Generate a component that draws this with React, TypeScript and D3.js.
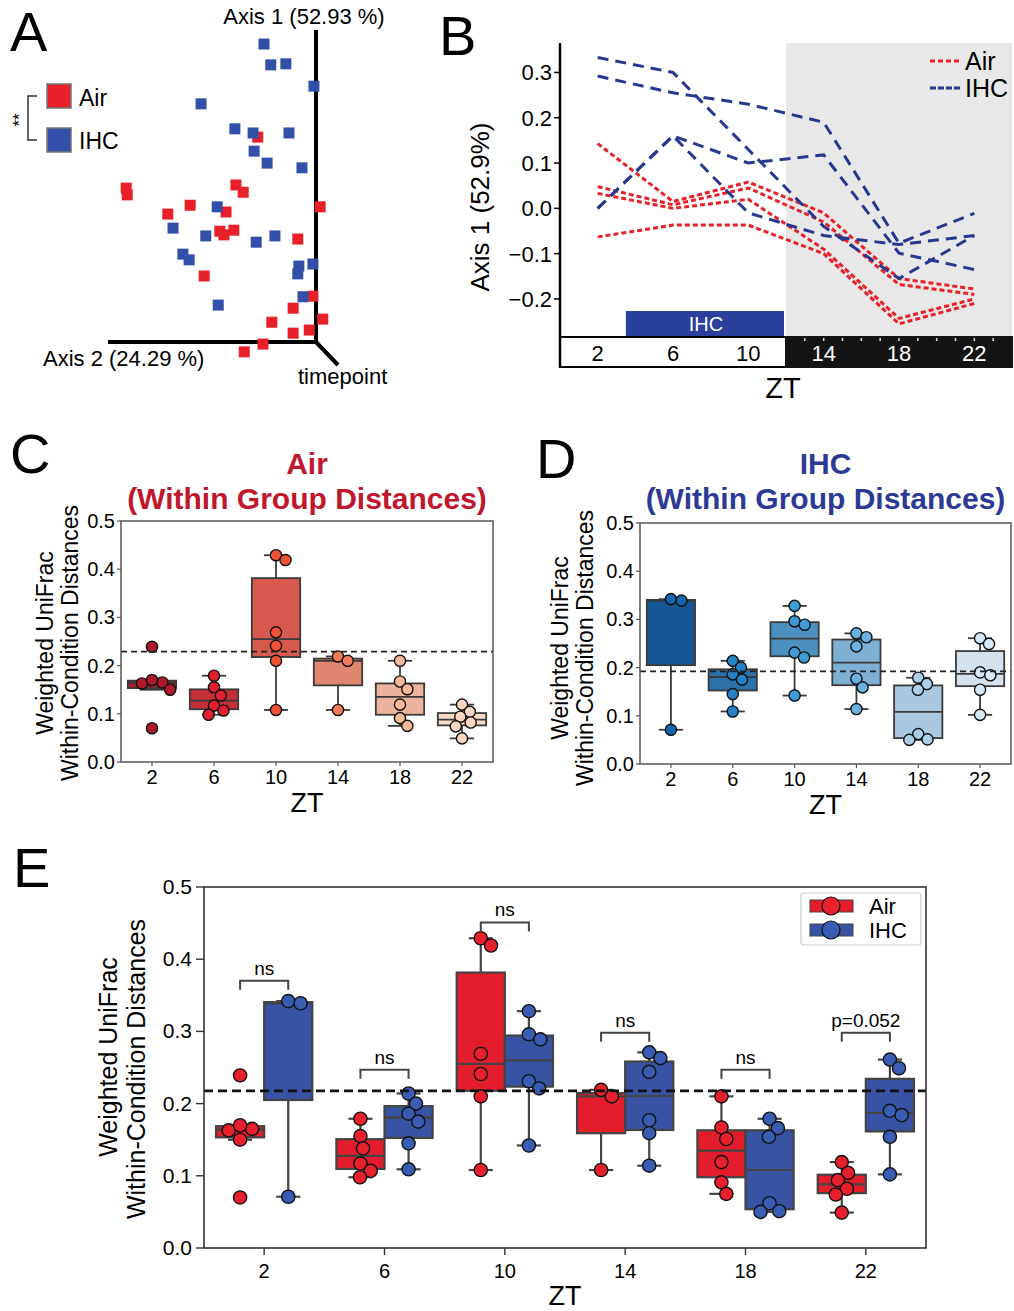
import * as d3 from 'd3';

const FONT = '"Liberation Sans", Arial, Helvetica, sans-serif';

// ---- Panel A: PCoA coordinates [axis 2, axis 1]
const pcoaAir = [
  [-0.112, 0.394], [-0.365, 0.296], [-0.363, 0.283], [-0.154, 0.302], [-0.14, 0.288],
  [-0.242, 0.263], [-0.285, 0.246], [-0.173, 0.25], [-0.185, 0.213], [-0.177, 0.206],
  [-0.158, 0.215], [0.008, 0.26], [-0.035, 0.198], [-0.215, 0.127], [-0.006, 0.088],
  [-0.044, 0.065], [0.013, 0.044], [-0.085, 0.038], [-0.013, 0.023], [-0.044, 0.017],
  [-0.102, -0.004], [-0.138, -0.019],
];
const pcoaIHC = [
  [-0.1, 0.573], [-0.087, 0.533], [-0.058, 0.535], [-0.004, 0.492], [-0.221, 0.458],
  [-0.156, 0.41], [-0.121, 0.402], [-0.052, 0.402], [-0.119, 0.367], [-0.094, 0.344],
  [-0.027, 0.335], [-0.19, 0.26], [-0.275, 0.219], [-0.212, 0.204], [-0.079, 0.204],
  [-0.115, 0.192], [-0.256, 0.169], [-0.244, 0.158], [-0.006, 0.15], [-0.033, 0.146],
  [-0.035, 0.131], [-0.025, 0.087], [-0.188, 0.071],
];

// ---- Panel B: Axis 1 score per ZT
const ztHours = [2, 6, 10, 14, 18, 22];
const axis1Air = [
  [0.143, 0.015, 0.058, -0.01, -0.155, -0.178],
  [0.048, 0.008, 0.045, -0.03, -0.168, -0.19],
  [0.033, 0.0, 0.02, -0.09, -0.243, -0.2],
  [-0.063, -0.037, -0.037, -0.1, -0.255, -0.21],
];
const axis1IHC = [
  [0.333, 0.3, 0.13, -0.04, -0.155, -0.06],
  [0.292, 0.255, 0.23, 0.19, -0.077, -0.011],
  [0.0, 0.16, 0.1, 0.118, -0.099, -0.135],
  [0.0, 0.16, -0.01, -0.06, -0.08, -0.06],
];
const bTicks = [-0.2, -0.1, 0.0, 0.1, 0.2, 0.3];

// ---- Panels C-E: within-condition weighted UniFrac distances
const ztLabels = ['2', '6', '10', '14', '18', '22'];
const distAir = [
  [0.239, 0.163, 0.165, 0.17, 0.15, 0.07],
  [0.179, 0.155, 0.138, 0.117, 0.107, 0.098],
  [0.429, 0.419, 0.269, 0.241, 0.21, 0.108],
  [0.219, 0.21, 0.108],
  [0.21, 0.167, 0.151, 0.119, 0.091, 0.075],
  [0.119, 0.104, 0.094, 0.082, 0.074, 0.049],
];
const distIHC = [
  [0.342, 0.339, 0.071],
  [0.214, 0.2, 0.186, 0.175, 0.145, 0.109],
  [0.328, 0.296, 0.289, 0.231, 0.221, 0.142],
  [0.271, 0.263, 0.244, 0.177, 0.159, 0.114],
  [0.179, 0.166, 0.154, 0.062, 0.051, 0.05],
  [0.261, 0.249, 0.19, 0.184, 0.154, 0.102],
];
const refAir = 0.229;
const refIHC = 0.192;
const refAll = 0.2176;
const yTicks = [0, 0.1, 0.2, 0.3, 0.4, 0.5];
const sigLabels = ['ns', 'ns', 'ns', 'ns', 'ns', 'p=0.052'];
const sigHeights = [0.37, 0.247, 0.451, 0.298, 0.247, 0.298];

const airBox = ['#a51d2d', '#c52f38', '#d65b4e', '#e0856e', '#ecb49d', '#f8dacb'];
const airPt = ['#ae1a2c', '#e21f2f', '#ef5235', '#f27c5a', '#f9b999', '#fcd6c3'];
const ihcBox = ['#165896', '#2b71aa', '#4c90c0', '#7eb0d4', '#aac9e0', '#d4e2ed'];
const ihcPt = ['#1664ae', '#2680c6', '#3d9bd6', '#69b1df', '#a9cfe9', '#d6e8f5'];
const RED = '#e41d2d';
const BLUE = '#3953a4';

function boxStats(values) {
  const s = [...values].sort(d3.ascending);
  const q1 = d3.quantileSorted(s, 0.25);
  const med = d3.quantileSorted(s, 0.5);
  const q3 = d3.quantileSorted(s, 0.75);
  const iqr = q3 - q1;
  const lo = d3.min(s.filter((v) => v >= q1 - 1.5 * iqr));
  const hi = d3.max(s.filter((v) => v <= q3 + 1.5 * iqr));
  return { q1, med, q3, lo, hi };
}

// simple beeswarm, like seaborn's swarmplot
function swarm(values, y, d) {
  const pts = values.map((v) => ({ v, py: y(v), dx: 0 }));
  const order = [...pts].sort((a, b) => a.py - b.py);
  const placed = [];
  for (const p of order) {
    const cands = [0];
    for (const q of placed) {
      const dy = p.py - q.py;
      if (Math.abs(dy) < d) {
        const off = Math.sqrt(d * d - dy * dy);
        cands.push(q.dx + off, q.dx - off);
      }
    }
    cands.sort((a, b) => Math.abs(a) - Math.abs(b));
    for (const c of cands) {
      if (placed.every((q) => (q.dx - c) ** 2 + (q.py - p.py) ** 2 >= d * d - 0.01)) {
        p.dx = c;
        break;
      }
    }
    placed.push(p);
  }
  return pts;
}

function Box({ cx, w, values, y, fill, ptFill, r, stroke = '#3a3a3a', sw = 1.8 }) {
  const b = boxStats(values);
  const pts = swarm(values, y, r * 1.9);
  return (
    <g>
      <line x1={cx} x2={cx} y1={y(b.q3)} y2={y(b.hi)} stroke={stroke} strokeWidth={sw} />
      <line x1={cx} x2={cx} y1={y(b.q1)} y2={y(b.lo)} stroke={stroke} strokeWidth={sw} />
      <line x1={cx - w / 4} x2={cx + w / 4} y1={y(b.hi)} y2={y(b.hi)} stroke={stroke} strokeWidth={sw} />
      <line x1={cx - w / 4} x2={cx + w / 4} y1={y(b.lo)} y2={y(b.lo)} stroke={stroke} strokeWidth={sw} />
      <rect x={cx - w / 2} y={y(b.q3)} width={w} height={Math.max(1, y(b.q1) - y(b.q3))} fill={fill} stroke={stroke} strokeWidth={sw} />
      <line x1={cx - w / 2} x2={cx + w / 2} y1={y(b.med)} y2={y(b.med)} stroke={stroke} strokeWidth={sw} />
      {pts.map((p, i) => (
        <circle key={i} cx={cx + p.dx} cy={p.py} r={r} fill={ptFill} stroke="#111" strokeWidth={1.4} />
      ))}
    </g>
  );
}

function PanelA() {
  const x = d3.scaleLinear().domain([-0.4, 0]).range([108, 316]);
  const y = d3.scaleLinear().domain([0, 0.6]).range([342, 30]);
  const s = 11;
  return (
    <g fontFamily={FONT}>
      <text x={10} y={51} fontSize={56}>A</text>
      <text x={304} y={24} fontSize={22} textAnchor="middle">Axis 1 (52.93 %)</text>
      <text x={43} y={366} fontSize={22}>Axis 2 (24.29 %)</text>
      <text x={298} y={384} fontSize={22}>timepoint</text>
      <line x1={x(0)} x2={x(0)} y1={y(0.6)} y2={y(0)} stroke="#000" strokeWidth={4} />
      <line x1={x(-0.4)} x2={x(0)} y1={y(0)} y2={y(0)} stroke="#000" strokeWidth={4} />
      <line x1={x(0)} x2={x(0) + 22} y1={y(0)} y2={y(0) + 23} stroke="#000" strokeWidth={4} />
      {pcoaAir.map((d, i) => (
        <rect key={'a' + i} x={x(d[0]) - s / 2} y={y(d[1]) - s / 2} width={s} height={s} fill="#e8202a" />
      ))}
      {pcoaIHC.map((d, i) => (
        <rect key={'b' + i} x={x(d[0]) - s / 2} y={y(d[1]) - s / 2} width={s} height={s} fill="#3250a8" />
      ))}
      <rect x={47} y={84} width={24} height={24} fill="#e8202a" stroke="#777" strokeWidth={1.5} />
      <rect x={47} y={128} width={24} height={24} fill="#3250a8" stroke="#777" strokeWidth={1.5} />
      <text x={79} y={106} fontSize={23}>Air</text>
      <text x={79} y={149} fontSize={23}>IHC</text>
      <path d="M37,96H28V140H37" fill="none" stroke="#333" strokeWidth={1.5} />
      <text x={0} y={0} fontSize={17} textAnchor="middle" transform="translate(25,120) rotate(-90)">**</text>
    </g>
  );
}

function PanelB() {
  const x = d3.scaleLinear().domain([0, 24]).range([560, 1012]);
  const y = d3.scaleLinear().domain([-0.284, 0.365]).range([337, 43]);
  const line = d3.line().x((_, i) => x(ztHours[i])).y((d) => y(d));
  const minor = d3.range(13, 24);
  return (
    <g fontFamily={FONT}>
      <text x={439} y={55} fontSize={56}>B</text>
      <rect x={x(12)} y={43} width={x(24) - x(12)} height={294} fill="#e8e8e8" />
      <rect x={x(3.5)} y={311} width={x(12) - x(3.5) - 2} height={25} fill="#2b3f9c" />
      <text x={(x(3.5) + x(12)) / 2} y={331} fontSize={20} fill="#fff" textAnchor="middle">IHC</text>
      {axis1Air.map((d, i) => (
        <path key={'ra' + i} d={line(d)} fill="none" stroke="#e8202a" strokeWidth={3} strokeDasharray="5,3" />
      ))}
      {axis1IHC.map((d, i) => (
        <path key={'bi' + i} d={line(d)} fill="none" stroke="#27398f" strokeWidth={3} strokeDasharray="11,7" />
      ))}
      <rect x={x(0)} y={337} width={x(12) - x(0)} height={30} fill="#fff" stroke="#000" strokeWidth={2} />
      <rect x={x(12)} y={337} width={x(24) - x(12)} height={30} fill="#141414" stroke="#141414" strokeWidth={2} />
      {minor.map((h) => (
        <line key={h} x1={x(h)} x2={x(h)} y1={338} y2={341} stroke="#ddd" strokeWidth={1.5} />
      ))}
      {ztHours.map((h) => (
        <text key={h} x={x(h)} y={361} fontSize={22} textAnchor="middle" fill={h > 12 ? '#fff' : '#000'}>{h}</text>
      ))}
      <line x1={x(0)} x2={x(0)} y1={43} y2={367} stroke="#000" strokeWidth={2.5} />
      {bTicks.map((t) => (
        <g key={t}>
          <line x1={x(0) - 6} x2={x(0)} y1={y(t)} y2={y(t)} stroke="#000" strokeWidth={1.5} />
          <text x={x(0) - 8} y={y(t) + 8} fontSize={22} textAnchor="end">{t < 0 ? '\u2212' + Math.abs(t).toFixed(1) : t.toFixed(1)}</text>
        </g>
      ))}
      <text transform="translate(489,207) rotate(-90)" fontSize={26} textAnchor="middle">Axis 1 (52.9%)</text>
      <text x={783} y={398} fontSize={29} textAnchor="middle">ZT</text>
      <line x1={930} x2={960} y1={61} y2={61} stroke="#e8202a" strokeWidth={3} strokeDasharray="5,3" />
      <line x1={930} x2={960} y1={88} y2={88} stroke="#27398f" strokeWidth={3} strokeDasharray="6,2" />
      <text x={965} y={70} fontSize={25}>Air</text>
      <text x={965} y={97} fontSize={25}>IHC</text>
    </g>
  );
}

function WithinPanel({ letter, letterX, letterY, title, color, left, right, top, bottom, data, boxFill, ptFill, refValue, labelX, labelY }) {
  const x = d3.scaleBand().domain(ztLabels).range([left, right]);
  const y = d3.scaleLinear().domain([0, 0.5]).range([bottom, top]);
  const cx = (left + right) / 2;
  const bw = x.bandwidth() * 0.78;
  return (
    <g fontFamily={FONT}>
      <text x={letterX} y={letterY} fontSize={56}>{letter}</text>
      <text x={cx} y={474} fontSize={30} fontWeight="bold" fill={color} textAnchor="middle">{title}</text>
      <text x={cx} y={509} fontSize={30} fontWeight="bold" fill={color} textAnchor="middle">(Within Group Distances)</text>
      {data.map((vals, i) => (
        <Box key={i} cx={x(ztLabels[i]) + x.bandwidth() / 2} w={bw} values={vals} y={y} fill={boxFill[i]} ptFill={ptFill[i]} r={5.6} />
      ))}
      <line x1={left} x2={right} y1={y(refValue)} y2={y(refValue)} stroke="#222" strokeWidth={1.8} strokeDasharray="6,4" />
      <rect x={left} y={top} width={right - left} height={bottom - top} fill="none" stroke="#555" strokeWidth={1.5} />
      {yTicks.map((t) => (
        <g key={t}>
          <line x1={left - 4} x2={left} y1={y(t)} y2={y(t)} stroke="#555" strokeWidth={1.2} />
          <text x={left - 6} y={y(t) + 7} fontSize={20} textAnchor="end">{t.toFixed(1)}</text>
        </g>
      ))}
      {ztLabels.map((z) => (
        <g key={z}>
          <line x1={x(z) + x.bandwidth() / 2} x2={x(z) + x.bandwidth() / 2} y1={bottom} y2={bottom + 4} stroke="#555" strokeWidth={1.2} />
          <text x={x(z) + x.bandwidth() / 2} y={bottom + 22} fontSize={20} textAnchor="middle">{z}</text>
        </g>
      ))}
      <text x={cx} y={bottom + 50} fontSize={27} textAnchor="middle">ZT</text>
      <text transform={`translate(${labelX},${labelY}) rotate(-90)`} fontSize={23} textAnchor="middle">Weighted UniFrac</text>
      <text transform={`translate(${labelX + 25},${labelY}) rotate(-90)`} fontSize={23} textAnchor="middle">Within-Condition Distances</text>
    </g>
  );
}

function PanelE() {
  const left = 204, right = 926, top = 887, bottom = 1248;
  const x = d3.scaleBand().domain(ztLabels).range([left, right]);
  const y = d3.scaleLinear().domain([0, 0.5]).range([bottom, top]);
  const step = x.bandwidth();
  const bw = step * 0.4;
  return (
    <g fontFamily={FONT}>
      <text x={13} y={887} fontSize={56}>E</text>
      {ztLabels.map((z, i) => {
        const c = x(z) + step / 2;
        return (
          <g key={z}>
            <Box cx={c - bw / 2} w={bw} values={distAir[i]} y={y} fill={RED} ptFill="#e8202e" r={6.6} stroke="#444" sw={2.2} />
            <Box cx={c + bw / 2} w={bw} values={distIHC[i]} y={y} fill={BLUE} ptFill="#3a5db4" r={6.6} stroke="#444" sw={2.2} />
          </g>
        );
      })}
      <line x1={left} x2={right} y1={y(refAll)} y2={y(refAll)} stroke="#111" strokeWidth={2.6} strokeDasharray="9,5" />
      {ztLabels.map((z, i) => {
        const c = x(z) + step / 2;
        const yy = y(sigHeights[i]);
        return (
          <g key={'s' + z}>
            <path d={`M${c - bw / 2},${yy + 9}V${yy}H${c + bw / 2}V${yy + 9}`} fill="none" stroke="#444" strokeWidth={2} />
            <text x={c} y={yy - 6} fontSize={19} textAnchor="middle">{sigLabels[i]}</text>
          </g>
        );
      })}
      <rect x={left} y={top} width={right - left} height={bottom - top} fill="none" stroke="#333" strokeWidth={1.6} />
      {yTicks.map((t) => (
        <g key={t}>
          <line x1={left - 8} x2={left} y1={y(t)} y2={y(t)} stroke="#333" strokeWidth={1.4} />
          <text x={left - 12} y={y(t) + 7} fontSize={21} textAnchor="end">{t.toFixed(1)}</text>
        </g>
      ))}
      {ztLabels.map((z) => (
        <g key={'t' + z}>
          <line x1={x(z) + step / 2} x2={x(z) + step / 2} y1={bottom} y2={bottom + 7} stroke="#333" strokeWidth={1.4} />
          <text x={x(z) + step / 2} y={bottom + 30} fontSize={20} textAnchor="middle">{z}</text>
        </g>
      ))}
      <text x={565} y={1305} fontSize={27} textAnchor="middle">ZT</text>
      <text transform="translate(117,1057) rotate(-90)" fontSize={25} textAnchor="middle">Weighted UniFrac</text>
      <text transform="translate(145,1069) rotate(-90)" fontSize={25} textAnchor="middle">Within-Condition Distances</text>
      <rect x={801} y={893} width={120} height={52} rx={3} fill="#fff" stroke="#ccc" strokeWidth={1.2} />
      <rect x={810} y={900} width={43} height={12} fill={RED} stroke="#444" strokeWidth={1} />
      <circle cx={831} cy={906} r={9} fill="#e8202e" stroke="#111" strokeWidth={1.2} />
      <rect x={810} y={924} width={43} height={12} fill={BLUE} stroke="#444" strokeWidth={1} />
      <circle cx={831} cy={930} r={9} fill="#3a5db4" stroke="#111" strokeWidth={1.2} />
      <text x={869} y={914} fontSize={22}>Air</text>
      <text x={869} y={938} fontSize={22}>IHC</text>
    </g>
  );
}

export default function App() {
  return (
    <svg width={1014} height={1311} style={{ position: 'absolute', left: 0, top: 0, background: '#fff' }}>
      <rect width={1014} height={1311} fill="#fff" />
      <PanelA />
      <PanelB />
      <WithinPanel letter="C" letterX={10} letterY={473} title="Air" color="#c0172f" left={121} right={493} top={521} bottom={762}
        data={distAir} boxFill={airBox} ptFill={airPt} refValue={refAir} labelX={53} labelY={643} />
      <WithinPanel letter="D" letterX={536} letterY={478} title="IHC" color="#2c3a95" left={640} right={1011} top={523} bottom={764}
        data={distIHC} boxFill={ihcBox} ptFill={ihcPt} refValue={refIHC} labelX={568} labelY={648} />
      <PanelE />
    </svg>
  );
}
